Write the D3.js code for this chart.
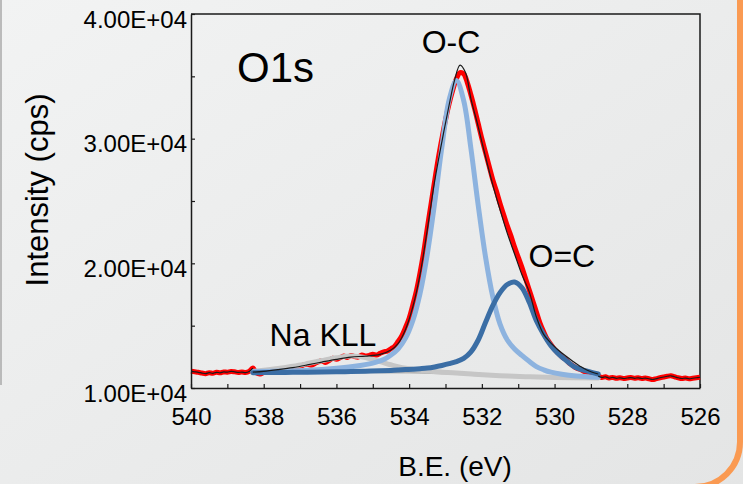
<!DOCTYPE html>
<html>
<head>
<meta charset="utf-8">
<script src="https://cdn.jsdelivr.net/npm/d3@7"></script>
<style>
  html, body { margin: 0; padding: 0; }
  body { width: 743px; height: 484px; overflow: hidden; }
  svg { display: block; font-family: Arial, "Liberation Sans", sans-serif; }
</style>
</head>
<body>
<svg id="chart" width="743" height="484"></svg>
<script>
// ---- O1s spectrum: binding energy (eV) and intensity (cps) ----
const rawStartEV = 540.0;
const rawStepEV = 0.1;
const rawCounts = [
  11340, 11300, 11260, 11200, 11150, 11230, 11180, 11260, 11220, 11290,
  11270, 11330, 11300, 11250, 11280, 11240, 11330, 11600, 11200, 11120,
  11250, 11380, 11420, 11400, 11470, 11520, 11430, 11560, 11680, 11620,
  11700, 11850, 11900, 11820, 11950, 12100, 12180, 12050, 12200, 12380,
  12300, 12420, 12560, 12450, 12600, 12520, 12480, 12650, 12560, 12620,
  12700, 12640, 12780, 12900, 12960, 13150, 13350, 13750, 14200, 14850,
  15600, 16650, 17800, 19250, 20900, 22850, 24700, 26600, 28400, 30000,
  31500, 32800, 33900, 34800, 35300, 35200, 34500, 33500, 32400, 31200,
  30000, 28900, 27800, 26700, 25800, 24800, 23900, 23000, 22200, 21300,
  20500, 19700, 18800, 17900, 17000, 16100, 15200, 14500, 13900, 13500,
  13100, 12800, 12500, 12300, 12000, 11800, 11600, 11500, 11350, 11200,
  11150, 11050, 10950, 10850, 10900, 10800, 10850, 10780, 10820, 10760,
  10800, 10840, 10780, 10820, 10760, 10800, 10740, 10680, 10750, 10820,
  10880, 10940, 10980, 10900, 10820, 10760, 10800, 10740, 10780, 10820,
  10860
];

// Fit range limits of the peak model
const fitRange = [538.3, 528.8];

// Shirley background [eV, cps]
const shirleyBg = [
  [538.3, 11320], [536.0, 11305], [535.0, 11295], [534.0, 11275], [533.4, 11245],
  [533.0, 11205], [532.5, 11135], [532.0, 11050], [531.5, 10980], [531.0, 10925],
  [530.5, 10875], [530.0, 10845], [529.4, 10818], [528.8, 10800]
];

// Na KLL Auger component
const naKLL = [
  [538.3, 11330], [538.0, 11420], [537.6, 11560], [537.2, 11740], [536.8, 11960],
  [536.4, 12200], [536.0, 12420], [535.6, 12560], [535.2, 12440], [534.8, 12110],
  [534.4, 11780], [534.0, 11540], [533.6, 11400], [533.2, 11300], [532.8, 11220],
  [532.2, 11100], [531.5, 10985], [530.8, 10905], [530.0, 10846], [528.8, 10801]
];

// O-C component
const oSingle = [
  [538.3, 11330], [537.5, 11360], [536.8, 11420], [536.0, 11580], [535.5, 11740],
  [535.0, 12000], [534.7, 12280], [534.5, 12650], [534.3, 13150], [534.1, 14000],
  [533.9, 15400], [533.7, 17590], [533.5, 20750], [533.3, 24820], [533.1, 29310],
  [532.9, 33120], [532.7, 34660], [532.5, 33060], [532.3, 29190], [532.1, 24650],
  [531.9, 20530], [531.7, 17330], [531.5, 15120], [531.3, 13850], [531.1, 13130],
  [530.9, 12610], [530.7, 12140], [530.5, 11720], [530.3, 11460], [530.1, 11270],
  [529.8, 11100], [529.4, 10960], [528.8, 10860]
];

// O=C component
const oDouble = [
  [538.3, 11230], [538.0, 11235], [537.6, 11245], [537.2, 11255], [536.8, 11270],
  [536.4, 11285], [536.0, 11300], [535.6, 11320], [535.2, 11345], [534.8, 11380],
  [534.5, 11410], [534.3, 11440], [534.1, 11475], [533.9, 11510], [533.7, 11550],
  [533.5, 11600], [533.3, 11690], [533.1, 11810], [532.9, 11950], [532.7, 12120],
  [532.5, 12380], [532.3, 12900], [532.1, 13850], [531.9, 15250], [531.7, 16600],
  [531.5, 17650], [531.3, 18300], [531.1, 18500], [530.9, 18050], [530.7, 16900],
  [530.5, 15400], [530.3, 14300], [530.1, 13400], [529.9, 12750], [529.7, 12250],
  [529.5, 11780], [529.3, 11520], [529.1, 11350], [528.8, 11120]
];

// Fit envelope
const envelope = [
  [538.3, 11270], [538.0, 11340], [537.6, 11480], [537.2, 11640], [536.8, 11850],
  [536.4, 12080], [536.0, 12300], [535.6, 12480], [535.2, 12560], [534.8, 12700],
  [534.5, 13050], [534.3, 13585], [534.1, 14700], [533.9, 16500], [533.7, 19100],
  [533.5, 22700], [533.3, 26550], [533.1, 29750], [532.9, 32700], [532.75, 34700],
  [532.6, 35900], [532.45, 35300], [532.3, 33200], [532.1, 30950], [531.9, 28550],
  [531.7, 26300], [531.5, 24300], [531.3, 22400], [531.1, 20750], [530.9, 19100],
  [530.7, 17750], [530.5, 15700], [530.3, 14300], [530.1, 13600], [529.9, 13050],
  [529.7, 12580], [529.5, 12150], [529.3, 11750], [529.1, 11420], [528.8, 11120]
];

// Axis ticks and labels
const xDomain = [540, 526];
const yDomain = [10000, 40000];
const xMajorTicks = [540, 538, 536, 534, 532, 530, 528, 526];
const xMinorTicks = [539, 537, 535, 533, 531, 529, 527];
const yMajorTicks = [10000, 20000, 30000, 40000];
const yMajorLabels = ["1.00E+04", "2.00E+04", "3.00E+04", "4.00E+04"];
const yMinorTicks = [15000, 25000, 35000];

// Peak annotations [text, eV, cps]
const peakLabels = [
  ["O-C", 532.85, 36870],
  ["O=C", 529.8, 19700],
  ["Na KLL", 536.37, 13370]
];

// ---- drawing ----
const W = 743, H = 484;
const margin = { left: 191, right: 700, top: 14, bottom: 388 };
const svg = d3.select("#chart");

const defs = svg.append("defs");
const grad = defs.append("linearGradient").attr("id", "bgGrad")
  .attr("x1", "0%").attr("y1", "0%").attr("x2", "100%").attr("y2", "100%");
grad.append("stop").attr("offset", "0%").attr("stop-color", "#f2f3f3");
grad.append("stop").attr("offset", "100%").attr("stop-color", "#e4e5e5");

svg.append("rect").attr("width", W).attr("height", H).attr("fill", "url(#bgGrad)");

// slide panel edges
svg.append("line").attr("x1", 1).attr("x2", 1).attr("y1", 0).attr("y2", 385)
  .attr("stroke", "#a8a8a8").attr("stroke-width", 1.5);
svg.append("rect").attr("x", -60).attr("y", -60)
  .attr("width", 740 + 60).attr("height", 487 + 60).attr("rx", 45).attr("ry", 45)
  .attr("fill", "none").attr("stroke", "#fa9a52").attr("stroke-width", 6);

const x = d3.scaleLinear().domain(xDomain).range([margin.left, margin.right]);
const y = d3.scaleLinear().domain(yDomain).range([margin.bottom, margin.top]);

const plot = svg.append("g");

// plot frame (top and right)
plot.append("path")
  .attr("d", `M${margin.left},${margin.top}H${margin.right}V${margin.bottom}`)
  .attr("fill", "none").attr("stroke", "#1a1a1a").attr("stroke-width", 1.5);

const line = d3.line().x(d => x(d[0])).y(d => y(d[1])).curve(d3.curveCatmullRom.alpha(0.5));

const rawData = rawCounts.map((c, i) => [+(rawStartEV - i * rawStepEV).toFixed(1), c]);
const outsideLeft = rawData.filter(d => d[0] >= fitRange[0] - 1e-9);
const outsideRight = rawData.filter(d => d[0] <= fitRange[1] + 1e-9);

// measured data
plot.append("path").datum(rawData).attr("d", line)
  .attr("fill", "none").attr("stroke", "#ff0000").attr("stroke-width", 5)
  .attr("stroke-linejoin", "round");

// components
const comp = (data, color, w) => plot.append("path").datum(data).attr("d", line)
  .attr("fill", "none").attr("stroke", color).attr("stroke-width", w)
  .attr("stroke-linejoin", "round").attr("stroke-linecap", "round");

comp(shirleyBg, "#b4b4b4", 3);
comp(naKLL, "#c6c6c6", 5);
comp(oSingle, "#8db3df", 5);
comp(oDouble, "#3b6ea5", 5);

// envelope and data trace
const thin = (data) => plot.append("path").datum(data).attr("d", line)
  .attr("fill", "none").attr("stroke", "#1a1a1a").attr("stroke-width", 1.2);
thin(outsideLeft);
thin(outsideRight);
thin(envelope);

// axes
const tickFont = "24px";
const xAxis = d3.axisBottom(x).tickValues(xMajorTicks).tickSizeInner(-4).tickSizeOuter(0)
  .tickPadding(20).tickFormat(d3.format("d"));
const gx = svg.append("g").attr("transform", `translate(0,${margin.bottom})`).call(xAxis);
const gxMinor = svg.append("g").attr("transform", `translate(0,${margin.bottom})`)
  .call(d3.axisBottom(x).tickValues(xMinorTicks).tickSizeInner(-4).tickSizeOuter(0).tickFormat(""));
gxMinor.select(".domain").remove();

const yAxis = d3.axisLeft(y).tickValues(yMajorTicks).tickSizeInner(-4).tickSizeOuter(0)
  .tickPadding(4).tickFormat((d, i) => yMajorLabels[i]);
const gy = svg.append("g").attr("transform", `translate(${margin.left},0)`).call(yAxis);
const gyMinor = svg.append("g").attr("transform", `translate(${margin.left},0)`)
  .call(d3.axisLeft(y).tickValues(yMinorTicks).tickSizeInner(-4).tickSizeOuter(0).tickFormat(""));
gyMinor.select(".domain").remove();

[gx, gxMinor, gy, gyMinor].forEach(g => {
  g.selectAll(".domain").attr("stroke", "#1a1a1a").attr("stroke-width", 1.5);
  g.selectAll(".tick line").attr("stroke", "#1a1a1a").attr("stroke-width", 1.2);
  g.selectAll("text").attr("fill", "#000").style("font-size", tickFont)
    .style("font-family", "Arial, 'Liberation Sans', sans-serif");
});
gy.selectAll("text").attr("dy", "0.55em");

// axis titles
svg.append("text").attr("transform", "translate(48,190) rotate(-90)")
  .attr("text-anchor", "middle").style("font-size", "31px").attr("fill", "#000")
  .text("Intensity (cps)");
svg.append("text").attr("x", 455).attr("y", 476)
  .attr("text-anchor", "middle").style("font-size", "28px").attr("fill", "#000")
  .text("B.E. (eV)");

// panel title and peak names
svg.append("text").attr("x", 237).attr("y", 82).style("font-size", "42px").attr("fill", "#000")
  .text("O1s");
svg.selectAll(".peak-label").data(peakLabels).join("text")
  .attr("class", "peak-label")
  .attr("x", d => x(d[1])).attr("y", d => y(d[2]))
  .attr("text-anchor", "middle").style("font-size", "32px").attr("fill", "#000")
  .text(d => d[0]);
</script>
</body>
</html>
